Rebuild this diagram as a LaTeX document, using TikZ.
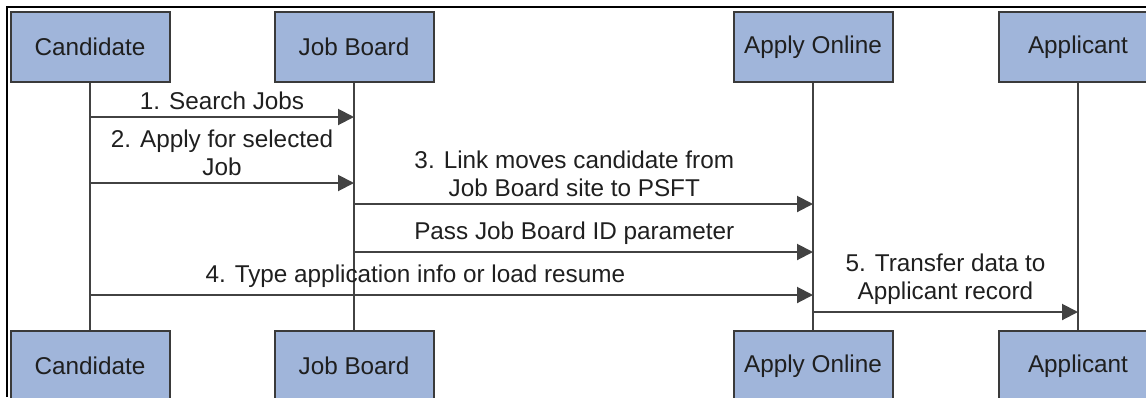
\documentclass[tikz,border=0pt]{standalone}
\usepackage{fontspec}
\setmainfont{Liberation Sans}
\usepackage{xcolor}
\usetikzlibrary{arrows.meta,positioning}
\definecolor{boxfill}{HTML}{A0B5DA}
\definecolor{boxline}{HTML}{3A3A3A}
\definecolor{msgline}{HTML}{424242}

\begin{document}
\begin{tikzpicture}[x=0.5pt,y=-0.5pt,
  lane/.style={draw=boxline,fill=boxfill,line width=1pt,minimum width=79.5pt,minimum height=35pt,inner sep=0pt,text=black!88,font=\fontsize{12.15}{14}\selectfont},
  life/.style={draw=msgline,line width=1pt},
  msg/.style={-{Triangle[length=8pt,width=8pt]},draw=msgline,line width=1pt},
  lbl/.style={above,align=center,inner sep=3pt,text=black!88,font=\fontsize{12.15}{14}\selectfont}]
\useasboundingbox(0,0)rectangle(1146,397);
\clip(0,0)rectangle(1146,397);
\draw[line width=0.8pt](7,397)--(7,7)--(1146,7);
% lanes, top and bottom
\node[lane](cand)at(90,47){Candidate};
\node[lane](jb)at(354,47){Job Board};
\node[lane](apply)at(813,47){Apply Online};
\node[lane](appl)at(1078,47){Applicant};
\node[lane](candB)at(90,366){Candidate};
\node[lane](jbB)at(354,366){Job Board};
\node[lane](applyB)at(813,366){Apply Online};
\node[lane](applB)at(1078,366){Applicant};
\foreach \a/\b in {cand/candB,jb/jbB,apply/applyB,appl/applB}
  \draw[life](\a)--(\b);
% messages
\draw[msg](cand|-0,117)--node[lbl]{1. Search Jobs}(jb|-0,117);
\draw[msg](cand|-0,183)--node[lbl]{2. Apply for selected\\Job}(jb|-0,183);
\draw[msg](jb|-0,204)--node[lbl,pos=0.48]{3. Link moves candidate from\\Job Board site to PSFT}(apply|-0,204);
\draw[msg](jb|-0,252)--node[lbl,pos=0.48]{Pass Job Board ID parameter}(apply|-0,252);
\draw[msg](cand|-0,295)--node[lbl,pos=0.45]{4. Type application info or load resume}(apply|-0,295);
\draw[msg](apply|-0,312)--node[lbl]{5. Transfer data to\\Applicant record}(appl|-0,312);
\end{tikzpicture}
\end{document}
